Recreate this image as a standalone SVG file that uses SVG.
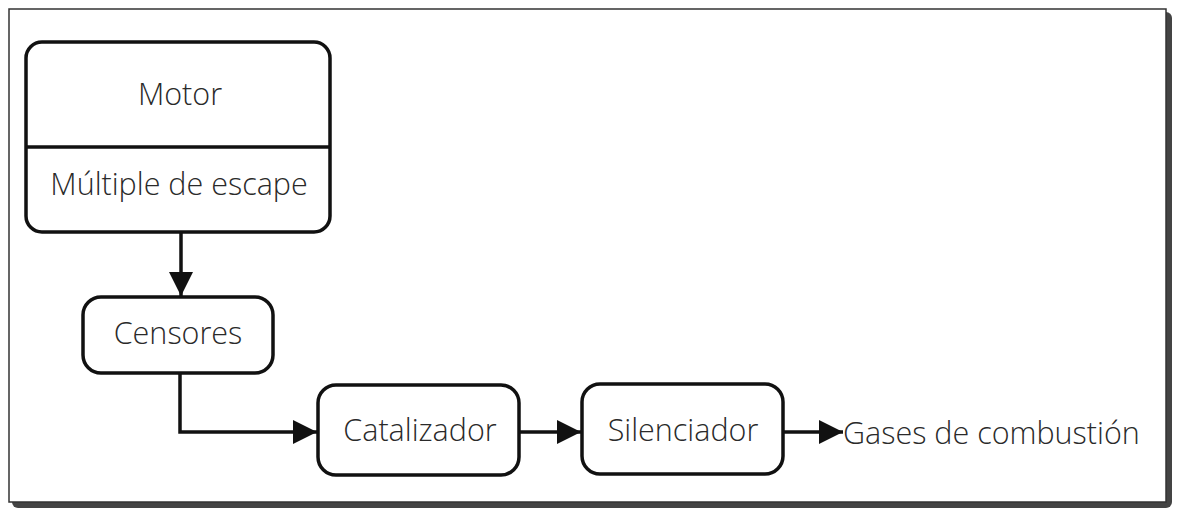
<svg xmlns="http://www.w3.org/2000/svg" width="1177" height="512" viewBox="0 0 1177 512">
<defs>
<style>
.box{fill:#fff;stroke:#111;stroke-width:3.5}
.t{font-family:"Open Sans","Noto Sans",sans-serif;font-size:30.5px;font-weight:300;fill:#2a2a2a;text-anchor:middle}
.c{fill:none;stroke:#111;stroke-width:3.5}
</style>
<marker id="ah" viewBox="0 0 10 10" refX="10" refY="5" markerWidth="7" markerHeight="7" markerUnits="strokeWidth" orient="auto">
<path d="M0,0 L10,5 L0,10 z" fill="#111"/>
</marker>
</defs>
<rect x="0" y="0" width="1177" height="512" fill="#fff"/>
<g id="frame">
<rect x="12" y="12" width="1160" height="496" rx="6" fill="#444"/>
<rect x="9" y="9" width="1157" height="493" fill="#fff" stroke="#333" stroke-width="1.5"/>
</g>
<g id="motor">
<rect class="box" x="26" y="42" width="304" height="190" rx="16"/>
<line x1="26" y1="147" x2="330" y2="147" stroke="#111" stroke-width="3.5"/>
<text class="t" x="180" y="105">Motor</text>
<text class="t" x="179" y="195">Múltiple de escape</text>
</g>
<g id="censores">
<rect class="box" x="83" y="297" width="190" height="76" rx="18"/>
<text class="t" x="178" y="344">Censores</text>
</g>
<g id="catalizador">
<rect class="box" x="318" y="385" width="201" height="90" rx="18"/>
<text class="t" x="420" y="441">Catalizador</text>
</g>
<g id="silenciador">
<rect class="box" x="582" y="384" width="201" height="90" rx="18"/>
<text class="t" x="683" y="441">Silenciador</text>
</g>
<g id="salida">
<text class="t" x="843" y="444" style="text-anchor:start">Gases de combustión</text>
</g>
<g id="connectors">
<path class="c" d="M181,232 V296" marker-end="url(#ah)"/>
<path class="c" d="M180,373 V432 H317" marker-end="url(#ah)"/>
<path class="c" d="M519,432 H581" marker-end="url(#ah)"/>
<path class="c" d="M783,432 H843" marker-end="url(#ah)"/>
</g>
</svg>
